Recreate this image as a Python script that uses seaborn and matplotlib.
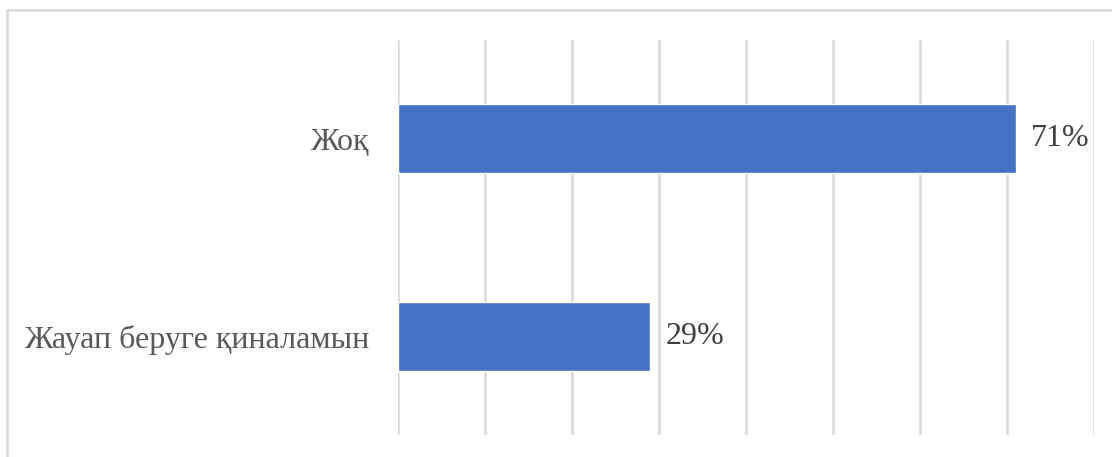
import matplotlib
matplotlib.use("Agg")
import matplotlib.pyplot as plt
import seaborn as sns
import pandas as pd
from matplotlib.patches import Rectangle

categories = ["Жоқ", "Жауап беруге қиналамын"]
values = [71, 29]
x_ticks = [0, 10, 20, 30, 40, 50, 60, 70, 80]

sns.set_theme(style="white")
plt.rcParams['font.family'] = ['Liberation Serif', 'DejaVu Serif']

df = pd.DataFrame({"cat": categories, "val": values})

fig = plt.figure(figsize=(11.12, 4.57), dpi=100)
ax = fig.add_axes([398/1112, 1-435/457, (1094-398)/1112, (435-40)/457])

sns.barplot(data=df, x="val", y="cat", orient="h", color="#4472C4",
            width=0.35, ax=ax, saturation=1)

ax.set_xlim(0, 80)
ax.set_ylim(1.5, -0.5)
ax.set_xticks(x_ticks)
ax.set_xticklabels([])
ax.grid(axis="x", color="#D9D9D9", linewidth=1.8)
ax.set_axisbelow(True)
for s in ax.spines.values():
    s.set_visible(False)
ax.set_xlabel("")
ax.set_ylabel("")
ax.tick_params(axis="y", length=0, pad=21, labelsize=23, labelcolor="#595959")
ax.tick_params(axis="x", length=0)

for c in ax.containers:
    ax.bar_label(c, labels=[f"{v}%" for v in values], padding=11,
                 fontsize=23, color="#404040")

fig.patches.append(Rectangle((7/1112, -0.1), 1.2, 1 - 10/457 + 0.1,
                             transform=fig.transFigure, fill=False,
                             edgecolor="#D9D9D9", linewidth=1.8))

fig.savefig("out.png", dpi=100, facecolor="white")
